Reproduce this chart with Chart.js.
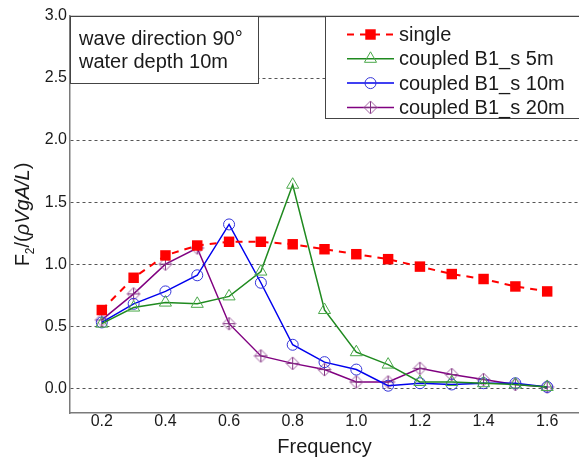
<!DOCTYPE html>
<html>
<head>
<meta charset="utf-8">
<script src="https://cdn.jsdelivr.net/npm/chart.js@4/dist/chart.umd.min.js"></script>
<style>
  html, body { margin: 0; padding: 0; background: #fff; overflow: hidden; }
  canvas { display: block; }
</style>
</head>
<body>
<canvas id="chart" width="579" height="459"></canvas>
<script>
// data
const freq = [0.2, 0.3, 0.4, 0.5, 0.6, 0.7, 0.8, 0.9, 1.0, 1.1, 1.2, 1.3, 1.4, 1.5, 1.6];
const single = [0.63, 0.89, 1.07, 1.15, 1.18, 1.18, 1.16, 1.12, 1.08, 1.04, 0.98, 0.92, 0.88, 0.82, 0.78];
const coupled5 = [0.52, 0.65, 0.69, 0.68, 0.74, 0.94, 1.64, 0.63, 0.29, 0.19, 0.05, 0.05, 0.04, 0.03, 0.01];
const coupled10 = [0.53, 0.68, 0.78, 0.91, 1.32, 0.85, 0.35, 0.21, 0.15, 0.02, 0.04, 0.03, 0.04, 0.04, 0.01];
const coupled20 = [0.55, 0.76, 1.00, 1.13, 0.52, 0.26, 0.20, 0.15, 0.05, 0.05, 0.16, 0.11, 0.07, 0.03, 0.01];
const seriesNames = ['single', 'coupled B1_s 5m', 'coupled B1_s 10m', 'coupled B1_s 20m'];
const xTicks = [0.2, 0.4, 0.6, 0.8, 1.0, 1.2, 1.4, 1.6];
const yTicks = [0.0, 0.5, 1.0, 1.5, 2.0, 2.5, 3.0];
const noteLines = ['wave direction 90\u00b0', 'water depth 10m'];

const FONT = '"Liberation Sans", Arial, sans-serif';

const pts = arr => arr.map((v, i) => ({ x: freq[i], y: v }));

// diamond with a cross, for the 20m series
function diamondMarker() {
  const c = document.createElement('canvas');
  c.width = 15; c.height = 15;
  const g = c.getContext('2d');
  g.lineWidth = 1;
  g.strokeStyle = '#a060a0';
  g.beginPath();
  g.moveTo(7.5, 1); g.lineTo(14, 7.5); g.lineTo(7.5, 14); g.lineTo(1, 7.5); g.closePath();
  g.stroke();
  g.strokeStyle = '#803080';
  g.beginPath();
  g.moveTo(7.5, 1.5); g.lineTo(7.5, 13.5);
  g.moveTo(1.5, 7.5); g.lineTo(13.5, 7.5);
  g.stroke();
  return c;
}
const diamond = diamondMarker();

const frame = {
  id: 'frame',
  afterDraw(chart) {
    const { ctx, chartArea: a } = chart;
    ctx.save();
    // top frame line
    ctx.strokeStyle = '#444';
    ctx.lineWidth = 1.5;
    ctx.beginPath();
    ctx.moveTo(a.left, a.top + 0.5);
    ctx.lineTo(chart.width, a.top + 0.5);
    ctx.stroke();

    // note box
    ctx.fillStyle = '#fff';
    ctx.fillRect(a.left, a.top, 188, 67);
    ctx.strokeStyle = '#444';
    ctx.lineWidth = 1;
    ctx.strokeRect(a.left + 0.5, a.top + 0.5, 188, 67);
    ctx.fillStyle = '#1a1a1a';
    ctx.font = '20px ' + FONT;
    ctx.textBaseline = 'alphabetic';
    ctx.textAlign = 'left';
    noteLines.forEach((t, i) => ctx.fillText(t, a.left + 9, a.top + 29 + i * 23));

    // legend box
    const lx = 325;
    ctx.fillStyle = '#fff';
    ctx.fillRect(lx, a.top, chart.width - lx + 5, 102);
    ctx.strokeStyle = '#444';
    ctx.strokeRect(lx + 0.5, a.top + 0.5, chart.width - lx + 5, 102);
    chart.data.datasets.forEach((ds, i) => {
      const y = 34.5 + i * 24.3;
      ctx.save();
      ctx.strokeStyle = ds.borderColor;
      ctx.lineWidth = ds.borderWidth;
      ctx.setLineDash(ds.borderDash || []);
      ctx.beginPath();
      ctx.moveTo(347, y);
      ctx.lineTo(394, y);
      ctx.stroke();
      ctx.setLineDash([]);
      ctx.strokeStyle = ds.pointBorderColor;
      ctx.fillStyle = ds.pointBackgroundColor;
      ctx.lineWidth = ds.pointBorderWidth;
      if (Chart.helpers && Chart.helpers.drawPoint) {
        Chart.helpers.drawPoint(ctx, { pointStyle: ds.pointStyle, radius: ds.pointRadius, borderWidth: ds.pointBorderWidth, rotation: 0 }, 370.5, y);
      }
      ctx.restore();
      ctx.fillStyle = '#1a1a1a';
      ctx.font = '20px ' + FONT;
      ctx.textBaseline = 'middle';
      ctx.fillText(ds.label, 399, y + 1);
    });

    // y axis title with subscript
    const parts = [
      { t: 'F', f: '20px ' + FONT, dy: 0 },
      { t: '2', f: '12px ' + FONT, dy: 5 },
      { t: '/(', f: '20px ' + FONT, dy: 0 },
      { t: '\u03c1VgA/L', f: 'italic 20px ' + FONT, dy: 0 },
      { t: ')', f: '20px ' + FONT, dy: 0 }
    ];
    let w = 0;
    parts.forEach(p => { ctx.font = p.f; p.w = ctx.measureText(p.t).width; w += p.w; });
    ctx.translate(29, (a.top + a.bottom) / 2);
    ctx.rotate(-Math.PI / 2);
    ctx.textBaseline = 'alphabetic';
    let x = -w / 2;
    parts.forEach(p => { ctx.font = p.f; ctx.fillText(p.t, x, p.dy); x += p.w; });
    ctx.restore();
  }
};

new Chart(document.getElementById('chart').getContext('2d'), {
  type: 'line',
  data: {
    datasets: [
      {
        label: seriesNames[0], data: pts(single),
        borderColor: '#ff0000', borderWidth: 2, borderDash: [7, 6],
        pointStyle: 'rect', pointRadius: 7.4, pointBorderWidth: 0,
        pointBackgroundColor: '#ff0000', pointBorderColor: '#ff0000'
      },
      {
        label: seriesNames[1], data: pts(coupled5),
        borderColor: '#1f8a1f', borderWidth: 1.5,
        pointStyle: 'triangle', pointRadius: 7, pointBorderWidth: 1,
        pointBackgroundColor: 'rgba(255,255,255,0)', pointBorderColor: '#4aa84a'
      },
      {
        label: seriesNames[2], data: pts(coupled10),
        borderColor: '#0000ee', borderWidth: 1.5,
        pointStyle: 'circle', pointRadius: 5.5, pointBorderWidth: 1,
        pointBackgroundColor: 'rgba(255,255,255,0)', pointBorderColor: '#3434d8'
      },
      {
        label: seriesNames[3], data: pts(coupled20),
        borderColor: '#800080', borderWidth: 1.5,
        pointStyle: diamond, pointRadius: 7, pointBorderWidth: 1,
        pointBackgroundColor: 'rgba(255,255,255,0)', pointBorderColor: '#a060a0'
      }
    ]
  },
  options: {
    responsive: false,
    animation: false,
    devicePixelRatio: 1,
    layout: { padding: { top: 16, left: 0, right: 0, bottom: 0 }, autoPadding: false },
    plugins: { legend: { display: false }, tooltip: { enabled: false } },
    elements: { line: { tension: 0 } },
    scales: {
      x: {
        type: 'linear', min: 0.1, max: 1.7,
        afterFit: s => { s.height = 46; },
        afterBuildTicks: s => { s.ticks = xTicks.map(v => ({ value: v })); },
        grid: { display: false, drawTicks: false },
        border: { display: true, color: '#7a7a7a', width: 1.5 },
        ticks: { padding: -1, color: '#1a1a1a', font: { family: FONT, size: 16 }, callback: v => v.toFixed(1) },
        title: { display: true, text: 'Frequency', color: '#1a1a1a', font: { family: FONT, size: 20 }, padding: { top: 0, bottom: 0 } }
      },
      y: {
        type: 'linear', min: -0.2, max: 3.0,
        afterFit: s => { s.width = 70; },
        afterBuildTicks: s => { s.ticks = yTicks.map(v => ({ value: v })); },
        grid: { drawTicks: false, color: '#555', lineWidth: 1 },
        border: { display: true, color: '#7a7a7a', width: 1.5, dash: [3, 3] },
        ticks: { padding: 3, color: '#1a1a1a', font: { family: FONT, size: 16 }, callback: v => v.toFixed(1) }
      }
    }
  },
  plugins: [frame]
});
</script>
</body>
</html>
